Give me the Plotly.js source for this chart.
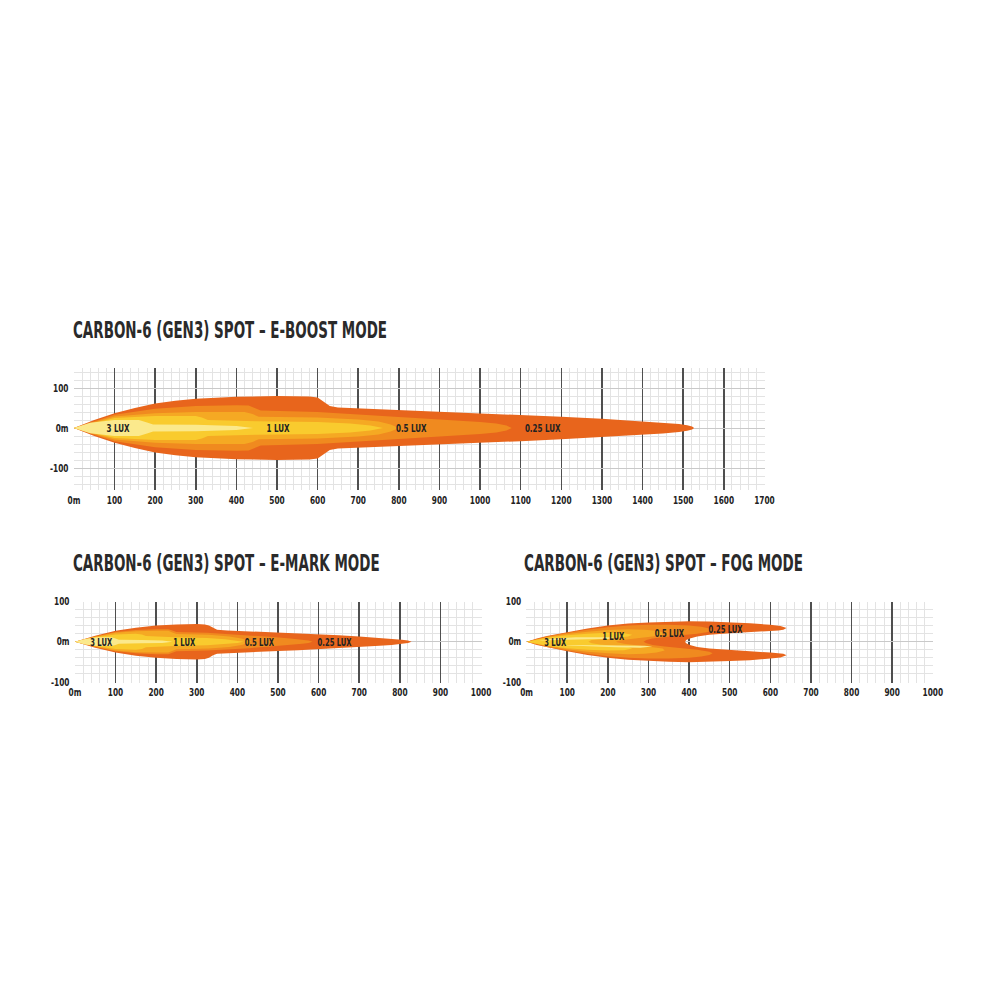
<!DOCTYPE html>
<html>
<head>
<meta charset="utf-8">
<script src="https://cdn.plot.ly/plotly-3.0.1.min.js"></script>
<style>
  html, body { margin: 0; padding: 0; background: #ffffff; }
  #chart { width: 1000px; height: 1000px; }
</style>
</head>
<body>
<div id="chart"></div>
<script>
// ---------------- DATA ----------------
// Chart titles
const titles = [
  'CARBON-6 (GEN3) SPOT \u2013 E-BOOST MODE',
  'CARBON-6 (GEN3) SPOT \u2013 E-MARK MODE',
  'CARBON-6 (GEN3) SPOT \u2013 FOG MODE'
];

// Tick labels
const ebTickVals = [0,100,200,300,400,500,600,700,800,900,1000,1100,1200,1300,1400,1500,1600,1700];
const ebTickText = ['0m','100','200','300','400','500','600','700','800','900','1000','1100','1200','1300','1400','1500','1600','1700'];
const smTickVals = [0,100,200,300,400,500,600,700,800,900,1000];
const smTickText = ['0m','100','200','300','400','500','600','700','800','900','1000'];
const yTickVals = [-100,0,100];
const yTickText = ['-100','0m','100'];

// Zone labels
const luxLabels = ['3 LUX','1 LUX','0.5 LUX','0.25 LUX'];

// E-BOOST beam contours (upper half, metres) – mirrored about 0 m
const ebX_025 = [0,25,50,100,150,200,250,300,400,500,580,600,615,630,650,700,800,900,1000,1100,1200,1300,1400,1450,1490,1510,1522,1527];
const ebY_025 = [0,10,20,37,50,61,68,73,78,80,79,76,66,55,51,49,45,41,37,33,28,23,17,14,10,7,4,0];
const ebX_05  = [0,50,100,200,300,400,430,445,460,600,700,800,900,1000,1040,1065,1078];
const ebY_05  = [0,17,33,48,55,57,56,50,44,40,34,27,21,15,11,6,0];
const ebX_1   = [0,50,100,200,300,420,440,455,600,700,750,780,800];
const ebY_1   = [0,15,29,37,40,40,35,28,26,21,16,9,0];
const ebX_3   = [0,50,100,200,300,315,330,450,600,680,730,761];
const ebY_3   = [0,13,25,30,30,26,20,17,15,11,6,0];
const ebX_hi  = [0,40,100,160,180,195,300,400,441];
const ebY_hi  = [0,13,20,20,14,9,8,5,0];

// E-MARK beam contours (upper half)
const emX_025 = [0,25,50,100,150,200,250,300,320,330,340,350,375,400,450,500,550,600,650,700,750,780,805,820,829];
const emY_025 = [0,8,15,27,35,40,43,44,43,40,34,30,28,27,25,23,21,19,16,13,10,8,5,3,0];
const emX_05  = [0,50,100,150,200,230,240,250,325,380,430,480,530,560,575,585];
const emY_05  = [0,13,24,29,31,31,28,24,22,19,16,12,8,5,3,0];
const emX_1   = [0,50,100,150,200,230,240,250,330,380,410,425,435];
const emY_1   = [0,12,22,26,27,27,23,19,17,13,8,4,0];
const emX_3   = [0,50,100,150,165,175,245,325,370,400,415];
const emY_3   = [0,11,18,20,18,14,11,9,6,3,0];
const emX_hi  = [0,25,55,90,100,108,165,215,240];
const emY_hi  = [0,7,11,11,8,5,4,3,0];

// FOG beam contours (upper half path: outer edge to lobe tip, back along notch) – mirrored
const fgX_025 = [0,25,50,100,150,200,250,300,350,400,450,500,550,600,625,640,632,620,600,550,500,450,420,402,393,390];
const fgY_025 = [0,8,14,24,33,40,45,48,50,51,50,48,46,42,39,34,30,28,27,24,21,17,13,8,4,0];
const fgX_05  = [0,50,100,150,200,250,300,350,400,430,450,458,450,420,380,340,310,295,288];
const fgY_05  = [0,13,22,30,36,40,42,42,40,37,33,29,25,20,16,12,8,4,0];
const fgX_1   = [0,50,100,150,200,250,290,320,340,335,310,270,240,225,220];
const fgY_1   = [0,11,19,25,29,31,30,27,22,17,13,9,5,2,0];
const fgX_3   = [0,50,100,150,200,240,260,250,220,180,160,152];
const fgY_3   = [0,10,16,20,22,21,17,13,10,7,4,0];
// light core streaks (full outlines, two streaks)
const fgX_hi  = [30,70,120,170,205,215,200,150,100,60,30, null, 90,150,220,280,305,310,290,230,160,110,90];
const fgY_hi  = [3,8,11,12,11,9,7,6,5,4,3, null, -9,-12,-14,-15,-14,-12,-10,-9,-8,-8,-9];

// ---------------- STYLE ----------------
const colors = {
  c025: '#E8651C',
  c05:  '#F08A1F',
  c1:   '#F5A923',
  c3:   '#F9CB2E',
  chi:  '#FBE98C'
};
const FONT_FAMILY = '"DejaVu Sans Condensed", "Liberation Sans Narrow", "Arial Narrow", sans-serif';
const tickFont = {family: FONT_FAMILY, size: 10.5, color: '#222222', weight: 700};

function mirror(xs, ys) {
  const rx = xs.slice().reverse();
  const ry = ys.slice().reverse().map(v => -v);
  return {x: xs.concat(rx), y: ys.concat(ry)};
}

function layer(poly, color, xa, ya) {
  return {
    type: 'scatter', mode: 'lines', x: poly.x, y: poly.y,
    fill: 'toself', fillcolor: color, line: {width: 0, color: color},
    xaxis: xa, yaxis: ya, hoverinfo: 'skip', showlegend: false
  };
}

const traces = [
  layer(mirror(ebX_025, ebY_025), colors.c025, 'x', 'y'),
  layer(mirror(ebX_05,  ebY_05),  colors.c05,  'x', 'y'),
  layer(mirror(ebX_1,   ebY_1),   colors.c1,   'x', 'y'),
  layer(mirror(ebX_3,   ebY_3),   colors.c3,   'x', 'y'),
  layer(mirror(ebX_hi,  ebY_hi),  colors.chi,  'x', 'y'),

  layer(mirror(emX_025, emY_025), colors.c025, 'x2', 'y2'),
  layer(mirror(emX_05,  emY_05),  colors.c05,  'x2', 'y2'),
  layer(mirror(emX_1,   emY_1),   colors.c1,   'x2', 'y2'),
  layer(mirror(emX_3,   emY_3),   colors.c3,   'x2', 'y2'),
  layer(mirror(emX_hi,  emY_hi),  colors.chi,  'x2', 'y2'),

  layer(mirror(fgX_025, fgY_025), colors.c025, 'x3', 'y3'),
  layer(mirror(fgX_05,  fgY_05),  colors.c05,  'x3', 'y3'),
  layer(mirror(fgX_1,   fgY_1),   colors.c1,   'x3', 'y3'),
  layer(mirror(fgX_3,   fgY_3),   colors.c3,   'x3', 'y3'),
  layer({x: fgX_hi, y: fgY_hi},   colors.chi,  'x3', 'y3')
];

function xAxis(domain, range, anchor, vals, text) {
  return {
    domain: domain, range: range, anchor: anchor,
    tickmode: 'array', tickvals: vals, ticktext: text,
    showgrid: true, gridcolor: '#4f4f4f', gridwidth: 1.5,
    minor: {tick0: 0, dtick: 20, showgrid: true, gridcolor: '#e3e3e3', gridwidth: 1, ticks: ''},
    zeroline: false, showline: false, ticks: '', tickfont: tickFont,
    ticklabelstandoff: 2, fixedrange: true
  };
}
function yAxis(domain, range, anchor) {
  return {
    domain: domain, range: range, anchor: anchor,
    tickmode: 'array', tickvals: yTickVals, ticktext: yTickText,
    showgrid: true, gridcolor: '#c9c9c9', gridwidth: 1,
    minor: {tick0: 0, dtick: 20, showgrid: true, gridcolor: '#e3e3e3', gridwidth: 1, ticks: ''},
    zeroline: false, showline: false, ticks: '', tickfont: tickFont,
    ticklabelstandoff: 4, fixedrange: true
  };
}

const titleFont = {family: FONT_FAMILY, size: 23, color: '#2a2a2a', weight: 700};
function titleAnn(text, x, y) {
  return {text: text, xref: 'paper', yref: 'paper', x: x, y: y,
          xanchor: 'left', yanchor: 'middle', showarrow: false, font: titleFont};
}
const luxFontBig = {family: FONT_FAMILY, size: 11, color: '#222222', weight: 700};
const luxFontSmall = {family: FONT_FAMILY, size: 10.5, color: '#222222', weight: 700};
function luxAnn(text, x, y, xr, yr, f) {
  return {text: text, xref: xr, yref: yr, x: x, y: y, showarrow: false,
          xanchor: 'center', yanchor: 'middle', font: f};
}

const layout = {
  width: 1000, height: 1000,
  margin: {l: 0, r: 0, t: 0, b: 0},
  paper_bgcolor: '#ffffff', plot_bgcolor: '#ffffff',
  showlegend: false,
  xaxis:  xAxis([0.0735, 0.7648], [-1, 1701], 'y', ebTickVals, ebTickText),
  yaxis:  yAxis([0.510, 0.632], [-155, 150], 'x'),
  xaxis2: xAxis([0.0745, 0.4815], [-1, 1001], 'y2', smTickVals, smTickText),
  yaxis2: yAxis([0.3173, 0.3985], [-102, 100], 'x2'),
  xaxis3: xAxis([0.5262, 0.9332], [-1, 1001], 'y3', smTickVals, smTickText),
  yaxis3: yAxis([0.3173, 0.3985], [-102, 100], 'x3'),
  annotations: [
    titleAnn(titles[0], 0.071, 0.670),
    titleAnn(titles[1], 0.071, 0.437),
    titleAnn(titles[2], 0.522, 0.437),

    luxAnn(luxLabels[0], 108, 0, 'x', 'y', luxFontBig),
    luxAnn(luxLabels[1], 503, 0, 'x', 'y', luxFontBig),
    luxAnn(luxLabels[2], 830, 0, 'x', 'y', luxFontBig),
    luxAnn(luxLabels[3], 1155, 0, 'x', 'y', luxFontBig),

    luxAnn(luxLabels[0], 65, 0, 'x2', 'y2', luxFontSmall),
    luxAnn(luxLabels[1], 270, 0, 'x2', 'y2', luxFontSmall),
    luxAnn(luxLabels[2], 455, 0, 'x2', 'y2', luxFontSmall),
    luxAnn(luxLabels[3], 640, 0, 'x2', 'y2', luxFontSmall),

    luxAnn(luxLabels[0], 70, -2, 'x3', 'y3', luxFontSmall),
    luxAnn(luxLabels[1], 213, 15, 'x3', 'y3', luxFontSmall),
    luxAnn(luxLabels[2], 351, 22, 'x3', 'y3', luxFontSmall),
    luxAnn(luxLabels[3], 492, 32, 'x3', 'y3', luxFontSmall)
  ]
};

// Narrow the lettering to imitate the condensed typeface of the original
function condense(el, factor, keepLeft) {
  const w = el.getComputedTextLength();
  if (!w) return;
  const nw = w * factor;
  el.setAttribute('textLength', nw.toFixed(2));
  el.setAttribute('lengthAdjust', 'spacingAndGlyphs');
  if (keepLeft) {
    const x0 = parseFloat(el.getAttribute('x') || '0');
    el.setAttribute('x', (x0 - (w - nw) / 2).toFixed(2));
  }
}

Plotly.newPlot('chart', traces, layout, {staticPlot: true, displayModeBar: false}).then(function (gd) {
  const annTexts = Array.from(gd.querySelectorAll('g.annotation text.annotation-text'));
  const titleEls = annTexts.filter(el => el.textContent.indexOf('CARBON') === 0);
  let factor = 0.75;
  if (titleEls.length) {
    const w0 = titleEls[0].getComputedTextLength();
    if (w0) factor = 314 / w0;
  }
  titleEls.forEach(el => condense(el, factor, true));
  annTexts.filter(el => el.textContent.indexOf('LUX') >= 0).forEach(el => condense(el, 0.72, false));
  gd.querySelectorAll('g.xtick text, g.x2tick text, g.x3tick text').forEach(el => condense(el, 0.78, false));
  gd.querySelectorAll('g.ytick text, g.y2tick text, g.y3tick text').forEach(el => condense(el, 0.78, false));
});
</script>
</body>
</html>
